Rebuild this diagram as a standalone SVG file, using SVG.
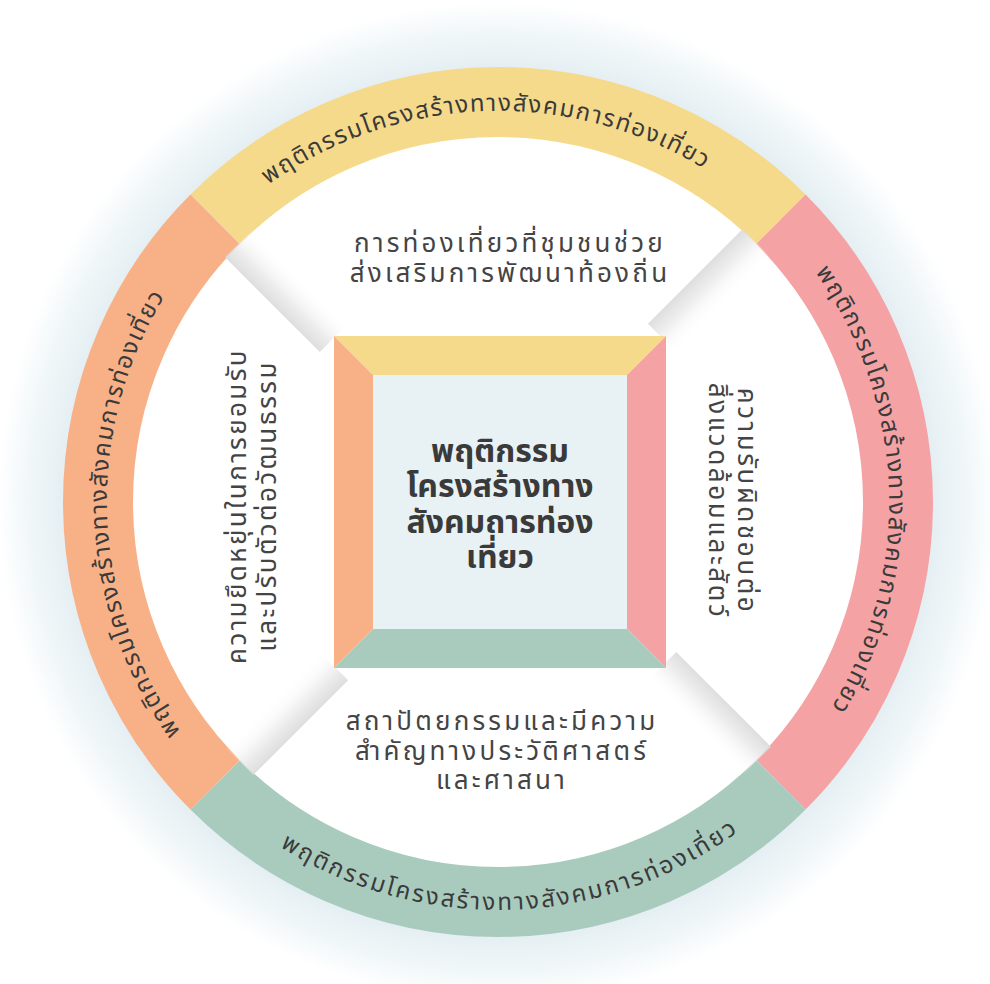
<svg xmlns="http://www.w3.org/2000/svg" xmlns:xlink="http://www.w3.org/1999/xlink" width="990" height="984" viewBox="0 0 990 984">
<defs>
<style>
.ring{fill:none;stroke-width:70;}
.rt{font-family:"Noto Sans Thai","Noto Sans","DejaVu Sans",sans-serif;font-size:24px;fill:#3a3a3a;letter-spacing:1.6px;}
.it{font-family:"Noto Sans Thai","Noto Sans","DejaVu Sans",sans-serif;font-size:26px;fill:#444;letter-spacing:3.2px;text-anchor:middle;}
.iv{font-family:"Noto Sans Thai","Noto Sans","DejaVu Sans",sans-serif;font-size:26px;fill:#444;letter-spacing:2.6px;text-anchor:middle;}
.ct{font-family:"Noto Sans Thai","Noto Sans","DejaVu Sans",sans-serif;font-size:32px;font-weight:bold;fill:#3a3a3a;text-anchor:middle;}
</style>
<radialGradient id="halo" cx="498" cy="502" r="500" gradientUnits="userSpaceOnUse">
<stop offset="0.86" stop-color="#e3eef2"/>
<stop offset="0.94" stop-color="#f1f7f9"/>
<stop offset="1" stop-color="#ffffff"/>
</radialGradient>
<linearGradient id="band" x1="0" y1="-20" x2="0" y2="20" gradientUnits="userSpaceOnUse">
<stop offset="0" stop-color="#dadada" stop-opacity="0.9"/>
<stop offset="0.35" stop-color="#e6e6e6" stop-opacity="0.75"/>
<stop offset="1" stop-color="#ffffff" stop-opacity="0"/>
</linearGradient>
<path id="pTop" d="M151,317.5 A395,395 0 0 1 831.3,293.7"/>
<path id="pRight" d="M682.5,155 A395,395 0 0 1 706.3,835.3"/>
<path id="pLeft" d="M313.5,849 A395,395 0 0 1 289.7,168.7"/>
<path id="pBottom" d="M152,718.2 A408,408 0 0 0 858.2,693.5"/>
</defs>
<rect width="990" height="984" fill="#ffffff"/>
<circle cx="498" cy="502" r="500" fill="url(#halo)"/>
<circle cx="498" cy="502" r="400" fill="#ffffff"/>

<g id="ring">
<path id="seg-top" class="ring" stroke="#f6da8b" d="M215.16,219.16 A400,400 0 0 1 780.84,219.16"/>
<path id="seg-right" class="ring" stroke="#f4a2a4" d="M780.84,219.16 A400,400 0 0 1 780.84,784.84"/>
<path id="seg-bottom" class="ring" stroke="#a9cbbd" d="M780.84,784.84 A400,400 0 0 1 215.16,784.84"/>
<path id="seg-left" class="ring" stroke="#f8b186" d="M215.16,784.84 A400,400 0 0 1 215.16,219.16"/>
</g>

<g id="connectors">
<rect transform="translate(498,502) rotate(225)" x="232" y="-20" width="134" height="40" fill="url(#band)"/>
<rect transform="translate(498,502) rotate(315)" x="232" y="-20" width="134" height="40" fill="url(#band)"/>
<rect transform="translate(498,502) rotate(45)" x="232" y="-20" width="134" height="40" fill="url(#band)"/>
<rect transform="translate(498,502) rotate(135)" x="232" y="-20" width="134" height="40" fill="url(#band)"/>
</g>

<g id="ring-labels">
<text class="rt"><textPath href="#pTop" startOffset="50%" text-anchor="middle">พฤติกรรมโครงสร้างทางสังคมการท่องเที่ยว</textPath></text>
<text class="rt"><textPath href="#pRight" startOffset="50%" text-anchor="middle">พฤติกรรมโครงสร้างทางสังคมการท่องเที่ยว</textPath></text>
<text class="rt"><textPath href="#pLeft" startOffset="50%" text-anchor="middle">พฤติกรรมโครงสร้างทางสังคมการท่องเที่ยว</textPath></text>
<text class="rt" style="letter-spacing:2.4px"><textPath href="#pBottom" startOffset="50%" text-anchor="middle">พฤติกรรมโครงสร้างทางสังคมการท่องเที่ยว</textPath></text>
</g>

<g id="center">
<polygon fill="#f6da8b" points="334,336 666,336 627,375 373,375"/>
<polygon fill="#f4a2a4" points="666,336 666,668 627,629 627,375"/>
<polygon fill="#a9cbbd" points="334,668 666,668 627,629 373,629"/>
<polygon fill="#f8b186" points="334,336 373,375 373,629 334,668"/>
<rect x="373" y="375" width="254" height="254" fill="#e8f1f4"/>
<text class="ct" x="500" y="462">พฤติกรรม<tspan x="500" y="497">โครงสร้างทาง</tspan><tspan x="500" y="533">สังคมถารท่อง</tspan><tspan x="500" y="568">เที่ยว</tspan></text>
</g>

<g id="node-top">
<text class="it" x="510" y="252">การท่องเที่ยวที่ชุมชนช่วย<tspan x="510" y="282">ส่งเสริมการพัฒนาท้องถิ่น</tspan></text>
</g>

<g id="node-right">
<text class="iv" transform="translate(738,501) rotate(90)" x="0" y="0">ความรับผิดชอบต่อ<tspan x="0" y="29">สิ่งแวดล้อมและสัตว์</tspan></text>
</g>

<g id="node-left">
<text class="iv" style="letter-spacing:2.4px" transform="translate(246,506) rotate(-90)" x="0" y="0">ความยึดหยุ่นในการยอมรับ<tspan x="0" y="30">และปรับตัวต่อวัฒนธรรม</tspan></text>
</g>

<g id="node-bottom">
<text class="it" x="502" y="730">สถาปัตยกรรมและมีความ<tspan x="502" y="760">สำคัญทางประวัติศาสตร์</tspan><tspan x="502" y="789">และศาสนา</tspan></text>
</g>
</svg>
